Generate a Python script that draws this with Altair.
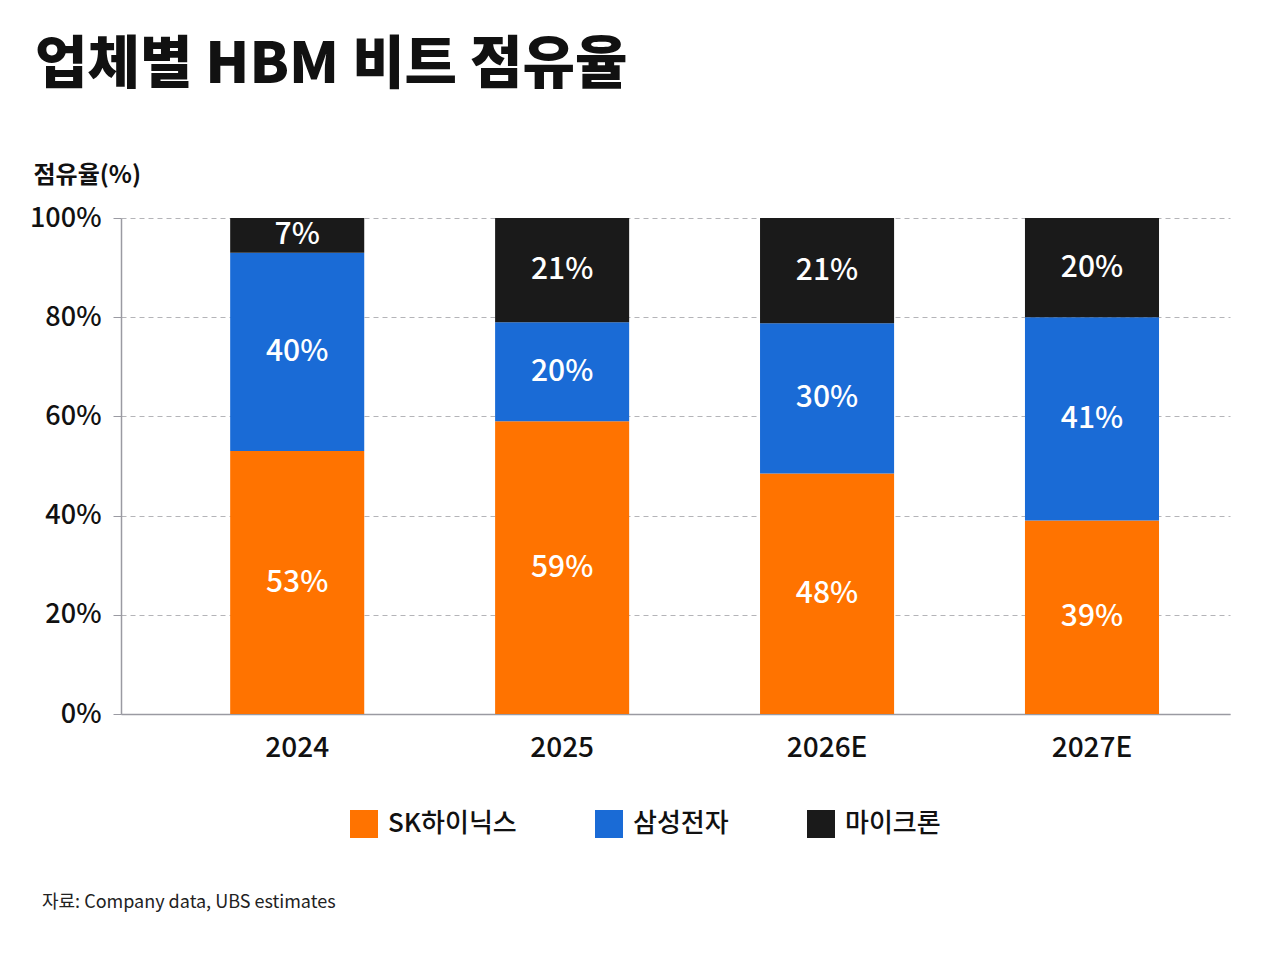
import altair as alt
import pandas as pd

years = ["2024", "2025", "2026E", "2027E"]
companies = ["SK하이닉스", "삼성전자", "마이크론"]
sk_hynix = [53, 59, 48, 39]
samsung = [40, 20, 30, 41]
micron = [7, 21, 21, 20]
colors = ["#FF7300", "#1A6BD6", "#1A1A1A"]

title_text = "업체별 HBM 비트 점유율"
y_title = "점유율(%)"
source_text = "자료: Company data, UBS estimates"

FONT = "Noto Sans CJK KR"

rows = []
for i, yr in enumerate(years):
    for j, vals in enumerate([sk_hynix, samsung, micron]):
        rows.append({"year": yr, "company": companies[j], "order": j, "value": vals[i]})
df = pd.DataFrame(rows)

base = alt.Chart(df).transform_stack(
    stack="value",
    groupby=["year"],
    as_=["y0", "y1"],
    offset="normalize",
    sort=[alt.SortField("order", order="ascending")],
).transform_calculate(
    mid="(datum.y0 + datum.y1) / 2",
    label="datum.value + '%'",
)

x_enc = alt.X(
    "year:N",
    sort=years,
    scale=alt.Scale(paddingInner=0.494, paddingOuter=0.34, align=0.606),
    axis=alt.Axis(
        title=None,
        labelAngle=0,
        ticks=False,
        grid=False,
        domainColor="#9a9aa2",
        domainWidth=1.5,
        labelFontSize=28,
        labelColor="#111111",
        labelPadding=20,
        labelFontWeight=500,
    ),
)

bars = base.mark_bar().encode(
    x=x_enc,
    y=alt.Y(
        "y0:Q",
        scale=alt.Scale(domain=[0, 1]),
        axis=alt.Axis(
            values=[0, 0.2, 0.4, 0.6, 0.8, 1.0],
            format=".0%",
            grid=True,
            gridDash=[5, 4],
            gridColor="#b4b4b8",
            gridWidth=1,
            domainColor="#9a9aa2",
            domainWidth=1.5,
            tickColor="#9a9aa2",
            tickSize=8,
            labelFontSize=27,
            labelFontWeight=500,
            labelColor="#111111",
            labelPadding=12,
            title=y_title,
            titleAngle=0,
            titleAlign="left",
            titleBaseline="middle",
            titleX=-88,
            titleY=-43,
            titleFontSize=24,
            titleFontWeight="bold",
            titleColor="#111111",
        ),
    ),
    y2="y1:Q",
    color=alt.Color(
        "company:N",
        sort=companies,
        scale=alt.Scale(domain=companies, range=colors),
        legend=alt.Legend(
            orient="none",
            legendX=229,
            legendY=592,
            direction="horizontal",
            title=None,
            symbolType="square",
            symbolSize=784,
            symbolStrokeWidth=0,
            symbolOpacity=1,
            labelFontSize=26,
            labelFontWeight=500,
            labelColor="#111111",
            labelOffset=10,
            columnPadding=78,
            labelLimit=300,
        ),
    ),
)

labels = base.mark_text(color="white", fontSize=30, fontWeight=500, font=FONT, baseline="middle").encode(
    x=alt.X("year:N", sort=years),
    y=alt.Y("mid:Q"),
    text="label:N",
)

title_layer = alt.Chart(pd.DataFrame({"t": [title_text]})).mark_text(
    fontSize=57, fontWeight=900, font=FONT, align="left", baseline="alphabetic", color="#111111"
).encode(text="t:N", x=alt.value(-86), y=alt.value(-135))

source_layer = alt.Chart(pd.DataFrame({"t": [source_text]})).mark_text(
    fontSize=18, font=FONT, align="left", baseline="middle", color="#222222"
).encode(text="t:N", x=alt.value(-79), y=alt.value(685))

chart = alt.layer(bars, labels, title_layer, source_layer).properties(
    width=1109,
    height=496,
    autosize=alt.AutoSizeParams(type="none"),
    padding={"left": 113, "top": 210, "right": 42, "bottom": 230},
    background="white",
).configure(font=FONT).configure_view(stroke=None)

chart.save("out.html", embed_options={"renderer": "svg", "actions": False})
